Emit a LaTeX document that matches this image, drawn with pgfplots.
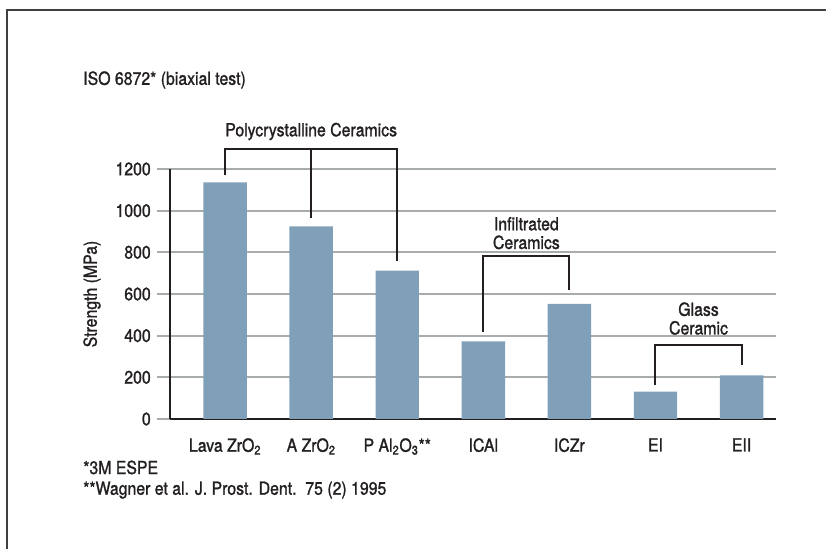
\documentclass[border=0pt]{standalone}
\usepackage{fontspec}
\setmainfont{TeX Gyre Heros}[FakeStretch=0.88,FakeBold=1.3]
\usepackage{pgfplots}
\pgfplotsset{compat=1.18}
\definecolor{barblue}{HTML}{7FA0B8}
\definecolor{gridgray}{HTML}{A9ACAC}
\definecolor{ink}{HTML}{231F20}
\newcommand{\fs}{\fontsize{13.5}{15}\selectfont}
\begin{document}
\fs
\begin{tikzpicture}
\useasboundingbox (0pt,0pt) rectangle (619.5pt,411.75pt);
% frame (pixel coordinates * 0.75pt)
\draw[color=black!75,line width=1.1pt] (5.25pt,0pt) -- (5.25pt,404.25pt) -- (619.5pt,404.25pt);
% title
\node[anchor=west,inner sep=0pt,text=ink,font=\fs] at (62.25pt,351.75pt) {ISO 6872* (biaxial test)};
% footnotes
\node[anchor=north west,inner sep=0pt,align=left,text=ink,font=\fontsize{13.5}{15.5}\selectfont] at (62.25pt,66.5pt)
  {*3M ESPE\\**Wagner et al. J. Prost. Dent.\ \ 75 (2) 1995};
\begin{axis}[
  at={(127.5pt,97.5pt)}, anchor=south west,
  scale only axis, width=454.5pt, height=187.5pt,
  xmin=-0.64, xmax=6.4, ymin=0, ymax=1200,
  axis x line=bottom, axis y line=left,
  axis line style={line width=1.9pt, color=ink, -},
  xtick={0,1,2,3,4,5,6},
  xticklabels={Lava ZrO\textsubscript{2}, A ZrO\textsubscript{2}, P Al\textsubscript{2}O\textsubscript{3}**, ICAl, ICZr, EI, EII},
  x tick style={draw=none},
  ytick={0,200,...,1200},
  y tick style={color=gridgray, line width=1.5pt},
  tick align=outside, major tick length=9.75pt,
  ymajorgrids, major grid style={color=gridgray, line width=1.5pt},
  ticklabel style={text=ink, font=\fs},
  /pgf/number format/assume math mode=true,
  yticklabel style={/pgf/number format/1000 sep={}},
  ylabel={Strength (MPa)},
  every axis y label/.style={at={(rel axis cs:0,0.5)}, xshift=-58.5pt, rotate=90, anchor=center, text=ink, font=\fs},
  clip=false,
]
\addplot[ybar, bar width=32.6pt, fill=barblue, draw=none] coordinates {
  (0,1136) (1,925) (2,712) (3,372) (4,553) (5,131) (6,209)
};
% brackets
\draw[ink, line width=1.5pt, line join=miter]
  (axis cs:0,1171) -- (axis cs:0,1298) -- (axis cs:2,1298) -- (axis cs:2,757);
\draw[ink, line width=1.5pt] (axis cs:1,1298) -- (axis cs:1,965);
\node[text=ink, font=\fs] at (axis cs:1,1380) {Polycrystalline Ceramics};
\draw[ink, line width=1.5pt, line join=miter]
  (axis cs:3,418) -- (axis cs:3,784) -- (axis cs:4,784) -- (axis cs:4,621);
\node[text=ink, align=center, font=\fontsize{13.5}{14}\selectfont] at (axis cs:3.5,892) {Infiltrated\\Ceramics};
\draw[ink, line width=1.5pt, line join=miter]
  (axis cs:5,165) -- (axis cs:5,353) -- (axis cs:6,353) -- (axis cs:6,261);
\node[text=ink, align=center, font=\fontsize{13.5}{14}\selectfont] at (axis cs:5.5,482) {Glass\\Ceramic};
\end{axis}
\end{tikzpicture}
\end{document}
